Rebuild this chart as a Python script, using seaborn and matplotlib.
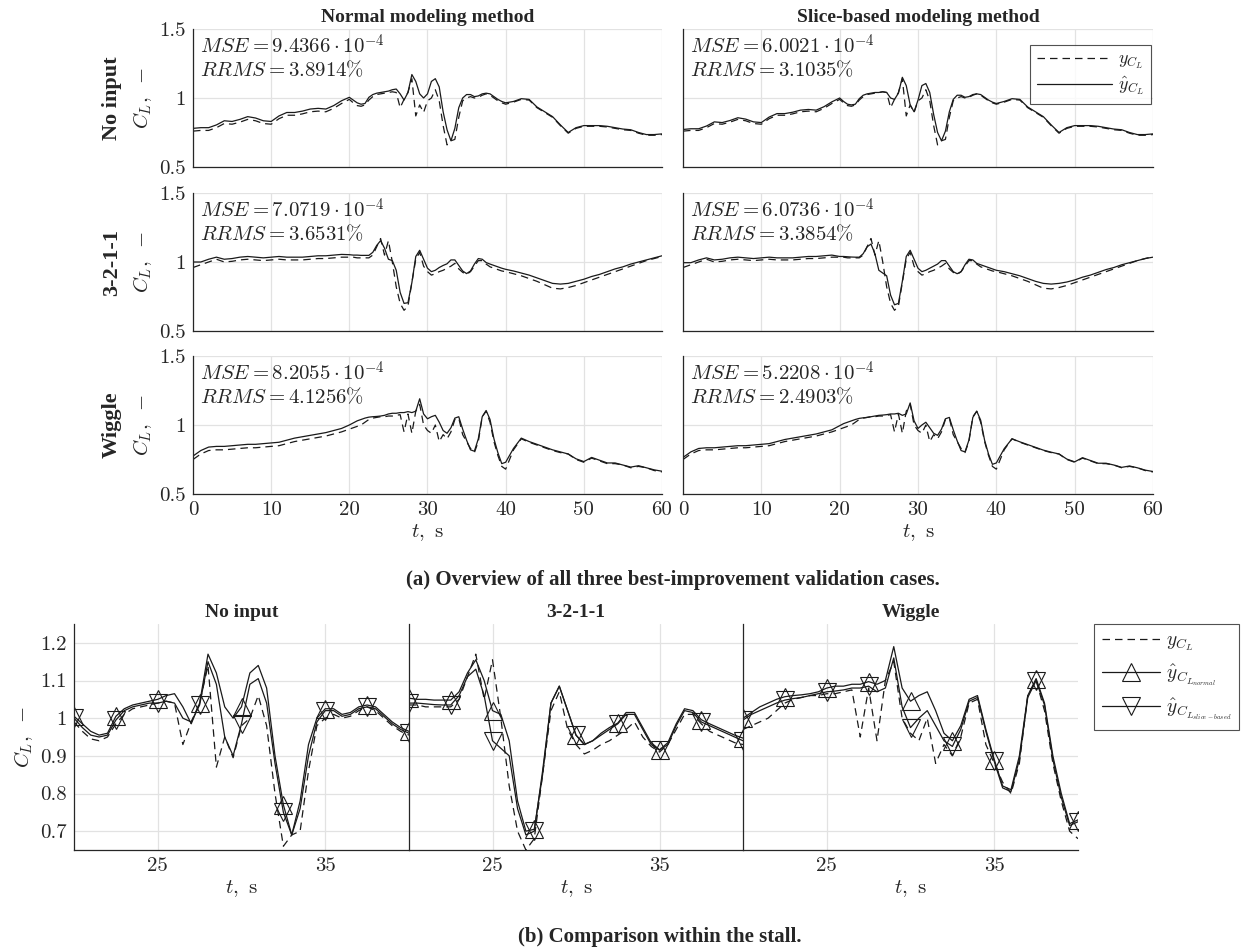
import matplotlib
matplotlib.use('Agg')
import numpy as np
import matplotlib.pyplot as plt
from matplotlib.lines import Line2D
import seaborn as sns

# time base (s): 1 s steps outside the stall, 0.5 s inside it
t = np.concatenate([np.arange(0, 20, 1.0), np.arange(20, 40.01, 0.5), np.arange(41, 61, 1.0)])

cases = ['No input', '3-2-1-1', 'Wiggle']

# measured lift coefficient y_CL
meas_noinput = [0.76, 0.765, 0.765, 0.785, 0.815, 0.81, 0.825, 0.845, 0.835, 0.815, 0.81, 0.85, 0.875, 0.875, 0.885, 0.90, 0.905, 0.90, 0.925, 0.96,
                0.99, 0.965, 0.945, 0.94, 0.95, 0.985, 1.01, 1.025, 1.03, 1.035, 1.04, 1.045, 1.04, 0.93, 0.99, 1.04, 1.14, 0.87, 0.95, 0.895,
                0.98, 1.0, 1.06, 0.98, 0.80, 0.66, 0.69, 0.70, 0.86, 0.98, 1.0, 1.01, 1.0, 1.005, 1.02, 1.03, 1.02, 1.0, 0.98, 0.965, 0.955,
                0.97, 0.99, 0.985, 0.93, 0.895, 0.86, 0.80, 0.745, 0.78, 0.795, 0.795, 0.795, 0.79, 0.78, 0.77, 0.765, 0.745, 0.73, 0.73, 0.735]
meas_3211 = [0.96, 0.98, 1.0, 1.02, 1.0, 1.005, 1.015, 1.02, 1.015, 1.01, 1.015, 1.02, 1.015, 1.015, 1.015, 1.02, 1.025, 1.025, 1.03, 1.035,
             1.035, 1.035, 1.03, 1.03, 1.03, 1.03, 1.05, 1.11, 1.17, 1.05, 1.155, 1.0, 0.82, 0.70, 0.65, 0.68, 0.85, 1.02, 1.07, 0.97,
             0.93, 0.905, 0.915, 0.93, 0.94, 0.955, 0.97, 0.99, 0.95, 0.925, 0.91, 0.93, 0.97, 1.01, 1.01, 0.985, 0.965, 0.955, 0.945, 0.935, 0.93,
             0.915, 0.9, 0.88, 0.86, 0.835, 0.81, 0.805, 0.815, 0.83, 0.85, 0.87, 0.89, 0.91, 0.93, 0.95, 0.97, 0.99, 1.01, 1.025, 1.04]
meas_wiggle = [0.75, 0.79, 0.815, 0.82, 0.82, 0.825, 0.83, 0.835, 0.835, 0.84, 0.845, 0.85, 0.865, 0.88, 0.89, 0.9, 0.91, 0.92, 0.935, 0.95,
               0.97, 0.98, 0.99, 1.0, 1.02, 1.04, 1.05, 1.055, 1.06, 1.06, 1.065, 1.065, 1.07, 1.075, 0.95, 1.08, 0.94, 1.10, 1.15, 1.0,
               0.96, 0.94, 1.0, 0.88, 0.93, 0.9, 0.95, 1.04, 1.05, 0.93, 0.88, 0.83, 0.80, 0.88, 1.06, 1.1, 1.02, 0.88, 0.78, 0.70, 0.68,
               0.82, 0.9, 0.875, 0.855, 0.835, 0.815, 0.8, 0.79, 0.75, 0.73, 0.76, 0.74, 0.72, 0.72, 0.71, 0.69, 0.7, 0.69, 0.67, 0.66]

# normal modeling method prediction
norm_noinput = [0.78, 0.785, 0.785, 0.805, 0.835, 0.83, 0.845, 0.865, 0.855, 0.835, 0.83, 0.87, 0.895, 0.895, 0.905, 0.92, 0.925, 0.92, 0.945, 0.98,
                1.005, 0.985, 0.965, 0.955, 0.96, 1.005, 1.025, 1.035, 1.04, 1.045, 1.05, 1.06, 1.065, 1.03, 0.985, 1.04, 1.17, 1.12, 1.03, 1.0,
                1.03, 1.12, 1.14, 1.08, 0.90, 0.77, 0.69, 0.78, 0.93, 1.0, 1.025, 1.025, 1.01, 1.015, 1.03, 1.035, 1.03, 1.01, 0.99, 0.975, 0.965,
                0.975, 0.995, 0.99, 0.935, 0.9, 0.865, 0.805, 0.75, 0.785, 0.8, 0.8, 0.8, 0.795, 0.785, 0.775, 0.77, 0.75, 0.735, 0.735, 0.74]
norm_3211 = [1.0, 1.0, 1.02, 1.035, 1.02, 1.025, 1.035, 1.04, 1.035, 1.03, 1.035, 1.04, 1.035, 1.035, 1.035, 1.04, 1.045, 1.045, 1.05, 1.055,
             1.053, 1.05, 1.05, 1.048, 1.048, 1.048, 1.07, 1.12, 1.155, 1.1, 1.02, 1.01, 0.94, 0.78, 0.70, 0.705, 0.85, 1.04, 1.085, 1.02,
             0.955, 0.93, 0.94, 0.96, 0.975, 0.987, 1.015, 1.015, 0.975, 0.935, 0.916, 0.935, 0.985, 1.025, 1.02, 0.996, 0.985, 0.975, 0.965, 0.955, 0.947,
             0.935, 0.92, 0.905, 0.885, 0.865, 0.845, 0.84, 0.845, 0.86, 0.875, 0.895, 0.91, 0.93, 0.95, 0.965, 0.985, 1.0, 1.015, 1.03, 1.045]
norm_wiggle = [0.775, 0.815, 0.84, 0.845, 0.845, 0.85, 0.855, 0.86, 0.86, 0.865, 0.87, 0.875, 0.89, 0.905, 0.915, 0.925, 0.935, 0.945, 0.96, 0.975,
               1.0, 1.015, 1.03, 1.04, 1.05, 1.057, 1.06, 1.062, 1.065, 1.07, 1.08, 1.085, 1.085, 1.09, 1.09, 1.097, 1.09, 1.1, 1.19, 1.08,
               1.045, 1.06, 1.07, 1.02, 0.96, 0.94, 0.98, 1.05, 1.06, 0.97, 0.89, 0.82, 0.81, 0.9, 1.06, 1.105, 1.04, 0.9, 0.8, 0.72, 0.73,
               0.83, 0.905, 0.88, 0.86, 0.84, 0.82, 0.805, 0.79, 0.755, 0.735, 0.765, 0.745, 0.725, 0.725, 0.71, 0.695, 0.705, 0.69, 0.675, 0.665]

# slice-based modeling method prediction
slice_noinput = [0.772, 0.777, 0.777, 0.797, 0.827, 0.822, 0.837, 0.857, 0.847, 0.827, 0.822, 0.862, 0.887, 0.887, 0.897, 0.912, 0.917, 0.912, 0.937, 0.972,
                 1.0, 0.975, 0.955, 0.95, 0.955, 0.995, 1.02, 1.03, 1.035, 1.04, 1.04, 1.045, 1.04, 1.0, 0.99, 1.035, 1.15, 1.09, 0.95, 0.9,
                 0.985, 1.09, 1.105, 1.04, 0.88, 0.75, 0.69, 0.76, 0.9, 0.99, 1.02, 1.02, 1.005, 1.01, 1.025, 1.03, 1.025, 1.005, 0.985, 0.97, 0.96,
                 0.975, 0.995, 0.99, 0.935, 0.9, 0.865, 0.805, 0.75, 0.785, 0.8, 0.8, 0.8, 0.795, 0.785, 0.775, 0.77, 0.75, 0.735, 0.735, 0.74]
slice_3211 = [0.995, 0.995, 1.015, 1.03, 1.015, 1.02, 1.03, 1.035, 1.03, 1.025, 1.03, 1.035, 1.03, 1.03, 1.03, 1.035, 1.04, 1.04, 1.045, 1.05,
              1.04, 1.04, 1.038, 1.036, 1.035, 1.035, 1.06, 1.11, 1.13, 1.06, 0.94, 0.92, 0.9, 0.76, 0.69, 0.70, 0.86, 1.04, 1.085, 1.02,
              0.955, 0.93, 0.94, 0.955, 0.97, 0.985, 1.01, 1.01, 0.97, 0.93, 0.915, 0.93, 0.98, 1.02, 1.015, 0.99, 0.98, 0.97, 0.96, 0.95, 0.94,
              0.93, 0.915, 0.9, 0.88, 0.86, 0.845, 0.84, 0.845, 0.855, 0.87, 0.89, 0.905, 0.925, 0.945, 0.96, 0.98, 0.995, 1.01, 1.025, 1.035]
slice_wiggle = [0.765, 0.805, 0.83, 0.835, 0.835, 0.84, 0.845, 0.85, 0.85, 0.855, 0.86, 0.865, 0.88, 0.895, 0.905, 0.915, 0.925, 0.935, 0.95, 0.965,
                0.995, 1.01, 1.02, 1.03, 1.04, 1.048, 1.052, 1.055, 1.06, 1.065, 1.07, 1.072, 1.075, 1.08, 1.08, 1.085, 1.07, 1.08, 1.16, 1.03,
                0.975, 1.0, 1.02, 0.98, 0.94, 0.925, 0.97, 1.045, 1.055, 0.965, 0.885, 0.815, 0.805, 0.89, 1.055, 1.1, 1.035, 0.89, 0.79, 0.715, 0.725,
                0.828, 0.9, 0.878, 0.858, 0.838, 0.818, 0.803, 0.79, 0.753, 0.733, 0.763, 0.743, 0.723, 0.723, 0.71, 0.693, 0.703, 0.69, 0.673, 0.663]

measured = [meas_noinput, meas_3211, meas_wiggle]
normal = [norm_noinput, norm_3211, norm_wiggle]
sliced = [slice_noinput, slice_3211, slice_wiggle]

mse_normal = ['9.4366', '7.0719', '8.2055']
rrms_normal = ['3.8914', '3.6531', '4.1256']
mse_slice = ['6.0021', '6.0736', '5.2208']
rrms_slice = ['3.1035', '3.3854', '2.4903']

sns.set_theme(style='whitegrid')
plt.rcParams['font.family'] = ['Liberation Serif', 'DejaVu Serif']
plt.rcParams['mathtext.fontset'] = 'cm'
plt.rcParams['axes.formatter.use_mathtext'] = True

W, H = 1257, 952
fig = plt.figure(figsize=(W / 100, H / 100), dpi=100)
fig.patch.set_facecolor('white')


def box(l, tp, r, b):
    return [l / W, 1 - b / H, (r - l) / W, (b - tp) / H]


def style(ax):
    ax.set_facecolor('white')
    ax.grid(True, color='#e2e2e2', lw=0.9)
    ax.set_axisbelow(True)
    for s in ['top', 'right']:
        ax.spines[s].set_visible(False)
    for s in ['left', 'bottom']:
        ax.spines[s].set_color('#262626')
        ax.spines[s].set_linewidth(0.9)
    ax.tick_params(direction='in', length=4, width=0.8, color='#262626', labelsize=15,
                   labelcolor='#262626', labelfontfamily='cmr10', pad=5)
    ax.set_xlabel('')
    ax.set_ylabel('')


def line(ax, x, y, **kw):
    sns.lineplot(x=x, y=y, ax=ax, color='k', lw=0.9, estimator=None, sort=False, legend=False, **kw)


dash = (0, (6, 4))
cols = [(193, 662), (683, 1153)]
rows = [(29, 167), (193, 331), (356, 494)]

for i, case in enumerate(cases):
    for j in range(2):
        ax = fig.add_axes(box(cols[j][0], rows[i][0], cols[j][1], rows[i][1]))
        model = normal[i] if j == 0 else sliced[i]
        line(ax, t, measured[i], linestyle=dash)
        line(ax, t, model)
        ax.set_xlim(0, 60)
        ax.set_ylim(0.5, 1.5)
        style(ax)
        ax.set_xticks([0, 10, 20, 30, 40, 50, 60])
        ax.set_yticks([0.5, 1.0, 1.5])
        ax.set_yticklabels(['0.5', '1', '1.5'] if j == 0 else [])
        if i < 2:
            ax.set_xticklabels([])
        else:
            ax.set_xticklabels(['0', '10', '20', '30', '40', '50', '60'])
            ax.set_xlabel(r'$t,\ \mathrm{s}$', fontsize=15, labelpad=2)
        mse = mse_normal[i] if j == 0 else mse_slice[i]
        rrms = rrms_normal[i] if j == 0 else rrms_slice[i]
        ax.text(0.015, 0.96, r'$MSE = %s\cdot 10^{-4}$' % mse, transform=ax.transAxes,
                fontsize=15, va='top', ha='left')
        ax.text(0.015, 0.77, r'$RRMS = %s\%%$' % rrms, transform=ax.transAxes,
                fontsize=15, va='top', ha='left')
        if j == 0:
            ax.set_ylabel(r'$C_L,\ -$', fontsize=15, labelpad=4)
            fig.text(112 / W, 1 - (rows[i][0] + rows[i][1]) / 2 / H, case, rotation=90,
                     fontsize=16, fontweight='bold', ha='center', va='center')
        if i == 0 and j == 1:
            hl = [Line2D([], [], color='k', lw=0.9, linestyle=dash), Line2D([], [], color='k', lw=0.9)]
            leg = ax.legend(hl, [r'$y_{C_L}$', r'$\hat{y}_{C_L}$'], loc='upper right',
                            bbox_to_anchor=(0.995, 0.885), borderaxespad=0, fontsize=13, frameon=True,
                            fancybox=False, handlelength=4.2, handletextpad=0.3, borderpad=0.35,
                            labelspacing=0.2, edgecolor='#262626')
            leg.get_frame().set_linewidth(0.8)
        if i == 0:
            ax.set_title(['Normal modeling method', 'Slice-based modeling method'][j],
                         fontsize=14, fontweight='bold', pad=5)

fig.text(673 / W, 1 - 580 / H, '(a) Overview of all three best-improvement validation cases.',
         fontsize=15, fontweight='bold', ha='center', va='center')

# stall comparison (20 s to 40 s)
bcols = [(74, 409), (409, 743), (743, 1078)]
k0, k1 = 20, 61
for i, case in enumerate(cases):
    ax = fig.add_axes(box(bcols[i][0], 624, bcols[i][1], 850))
    tt = t[k0:k1]
    line(ax, tt, measured[i][k0:k1], linestyle=dash)
    line(ax, tt, normal[i][k0:k1], marker='^', markersize=13, markevery=5,
         markerfacecolor='none', markeredgecolor='k', markeredgewidth=0.8)
    line(ax, tt, sliced[i][k0:k1], marker='v', markersize=13, markevery=5,
         markerfacecolor='none', markeredgecolor='k', markeredgewidth=0.8)
    ax.set_xlim(20, 40)
    ax.set_ylim(0.65, 1.25)
    style(ax)
    ax.set_xticks([25, 35])
    ax.set_xticklabels(['25', '35'])
    ax.set_yticks([0.7, 0.8, 0.9, 1.0, 1.1, 1.2])
    if i == 0:
        ax.set_yticklabels(['0.7', '0.8', '0.9', '1', '1.1', '1.2'])
        ax.set_ylabel(r'$C_L,\ -$', fontsize=15, labelpad=4)
    else:
        ax.set_yticklabels([])
    ax.set_xlabel(r'$t,\ \mathrm{s}$', fontsize=15, labelpad=2)
    ax.set_title(case, fontsize=14, fontweight='bold', pad=5)
    if i == 2:
        hl = [Line2D([], [], color='k', lw=0.9, linestyle=dash),
              Line2D([], [], color='k', lw=0.9, marker='^', markersize=13, markerfacecolor='none', markeredgewidth=0.8),
              Line2D([], [], color='k', lw=0.9, marker='v', markersize=13, markerfacecolor='none', markeredgewidth=0.8)]
        leg = ax.legend(hl, [r'$y_{C_L}$', r'$\hat{y}_{C_{L_{normal}}}$', r'$\hat{y}_{C_{L_{slice-based}}}$'],
                        loc='upper left', bbox_to_anchor=(1.048, 1.0), borderaxespad=0, fontsize=14,
                        frameon=True, fancybox=False, handlelength=3.0, handletextpad=0.3, borderpad=0.4,
                        labelspacing=0.45, edgecolor='#262626')
        leg.get_frame().set_linewidth(0.8)

fig.text(660 / W, 1 - 937 / H, '(b) Comparison within the stall.',
         fontsize=15, fontweight='bold', ha='center', va='center')

fig.savefig('out.png', dpi=100, facecolor='white')
plt.close(fig)
